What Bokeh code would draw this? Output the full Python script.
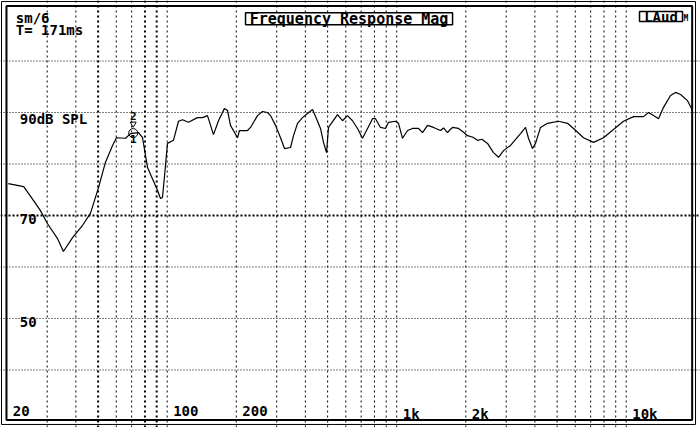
from bokeh.plotting import figure
from bokeh.models import Span, Label, Range1d
from bokeh.embed import file_html
from bokeh.resources import INLINE

# ---- data ----
freq_hz = [20.3, 23.7, 25.4, 28.0, 30.1, 33.3, 35.3, 38.7, 42.8, 46.3, 50.2, 53.8, 57.8, 60.1,
           65.8, 69.2, 75.0, 78.1, 82.1, 90.7, 93.5, 95.4, 98.3, 100.3, 106.5, 112.0, 116.6,
           123.8, 135.5, 142.5, 149.8, 159.1, 167.3, 177.7, 183.1, 188.7, 202.5, 206.5, 223.8,
           230.7, 247.5, 260.2, 273.5, 281.9, 296.4, 311.7, 324.5, 344.6, 355.1, 369.7, 388.7,
           408.7, 429.7, 447.3, 465.6, 479.8, 494.5, 504.5, 552.1, 580.5, 610.4, 641.8, 674.9,
           709.6, 746.2, 784.6, 808.5, 850.1, 893.9, 921.1, 988.1, 1018, 1060, 1115, 1172, 1245,
           1296, 1362, 1447, 1552, 1600, 1665, 1710, 1751, 1859, 1950, 2035, 2150, 2250, 2350,
           2487, 2641, 2777, 2920, 3133, 3463, 3641, 3752, 3906, 4026, 4233, 4541, 5070, 5549,
           5894, 6515, 7204, 7962, 8803, 9732, 10760, 11900, 12510, 13150, 13830, 14540, 15600,
           16400, 17250, 18500, 19450]
spl_db = [76.2, 75.6, 73.7, 71.0, 68.4, 65.5, 63.0, 65.7, 68.1, 70.4, 75.4, 80.3, 83.6, 85.1,
          85.0, 85.9, 86.1, 85.1, 79.3, 74.9, 73.3, 73.5, 79.7, 84.0, 84.6, 88.3, 88.6,
          88.1, 89.0, 89.0, 89.4, 85.7, 88.4, 90.8, 90.4, 87.5, 85.1, 86.5, 86.5,
          87.1, 89.4, 90.2, 90.0, 89.4, 87.5, 85.1, 83.0, 83.2, 85.5, 87.9, 89.0,
          89.8, 90.6, 88.8, 86.9, 84.2, 82.2, 87.1, 89.6, 88.4, 89.4, 88.4, 86.9,
          85.0, 86.9, 88.8, 88.8, 87.1, 86.9, 88.1, 88.3, 87.9, 85.0, 86.5, 86.9, 86.9,
          86.1, 87.5, 87.1, 86.5, 87.0, 86.1, 86.7, 87.1, 86.9, 86.2, 85.5, 85.2, 84.6, 84.8,
          84.0, 82.2, 81.3, 82.6, 83.6, 85.9, 87.1, 85.0, 83.0, 84.0, 87.1, 87.9, 88.3, 87.9,
          86.9, 85.1, 84.2, 85.1, 86.7, 88.3, 89.2, 89.2, 90.0, 89.4, 88.8, 91.0, 93.3,
          93.9, 93.5, 92.3, 90.4]

grid_freqs = [30, 40, 50, 60, 70, 80, 90, 100, 200, 300, 400, 500, 600, 700, 800, 900,
              1000, 2000, 3000, 4000, 5000, 6000, 7000, 8000, 9000, 10000]
bold_freqs = [50, 80, 90]
grid_db = [40, 50, 60, 70, 80, 90, 100]
bold_db = [70]

x_tick_values = [20, 100, 200, 1000, 2000, 10000]
x_tick_labels = ["20", "100", "200", "1k", "2k", "10k"]
y_tick_values = [90, 70, 50]
y_tick_labels = ["90dB SPL", "70", "50"]

marker_freq = 71.1
marker_db = 86.0

FONT = "DejaVu Sans Mono"

p = figure(width=700, height=427, x_axis_type="log",
           x_range=Range1d(18.78, 21070), y_range=Range1d(28.83, 111.75),
           output_backend="svg", toolbar_location=None, min_border=0)
p.axis.visible = False
p.grid.visible = False
p.outline_line_color = None
p.background_fill_color = "white"
p.border_fill_color = "white"

for f in grid_freqs:
    p.add_layout(Span(location=f, dimension="height", line_color="black", level="underlay",
                      line_dash="2 3", line_width=2 if f in bold_freqs else 1))
for d in grid_db:
    p.add_layout(Span(location=d, dimension="width", line_color="black", level="underlay",
                      line_dash="1 2" if d not in bold_db else "2 2",
                      line_width=2 if d in bold_db else 1))

# double frame (outer thin, inner thick)
p.quad(left=[18.97], right=[20045], bottom=[29.42], top=[111.55],
       fill_color=None, line_color="black", line_width=1)
p.quad(left=[19.94], right=[19380], bottom=[30.29], top=[110.68],
       fill_color=None, line_color="black", line_width=2)

p.line(freq_hz, spl_db, line_color="black", line_width=1.2)

# marker
p.scatter([marker_freq], [marker_db], marker="circle", size=9, fill_color=None,
          line_color="black", line_width=1)
p.scatter([marker_freq], [marker_db + 1.8], marker="inverted_triangle", size=6,
          fill_color=None, line_color="black", line_width=1)

def lab(x, y, t, size="14px", align="left", baseline="top", x_offset=0, **kw):
    p.add_layout(Label(x=x, y=y, text=t, text_align=align, text_baseline=baseline,
                       x_offset=x_offset, text_font=FONT, text_font_style="bold",
                       text_font_size=size, text_color="black", **kw))

lab(marker_freq, marker_db + 3.4, "2", size="11px", align="center", baseline="middle")
lab(marker_freq, marker_db - 1.1, "1", size="11px", align="center", baseline="middle")

for v, t in zip(x_tick_values, x_tick_labels):
    lab(v, 33.1, t, x_offset=6)
for v, t in zip(y_tick_values, y_tick_labels):
    lab(20, v + 0.3, t, x_offset=13)

lab(20, 109.9, "sm/6", x_offset=9)
lab(20, 107.6, "T= 171ms", x_offset=9)

# title box
p.rect(x=[620], y=[108.2], width=207, height=12, width_units="screen",
       height_units="screen", fill_color="white", line_color="black", line_width=1.5)
lab(620, 108.2, "Frequency Response Mag", size="15px", align="center", baseline="middle")

# LAud box
p.rect(x=[14180], y=[108.64], width=43, height=10, width_units="screen",
       height_units="screen", fill_color="white", line_color="black", line_width=1.5)
lab(14180, 108.6, "LAud", size="14px", align="center", baseline="middle")
lab(17770, 108.3, "M", size="8px", align="left", baseline="middle")

open("out.html", "w").write(file_html(p, INLINE))
